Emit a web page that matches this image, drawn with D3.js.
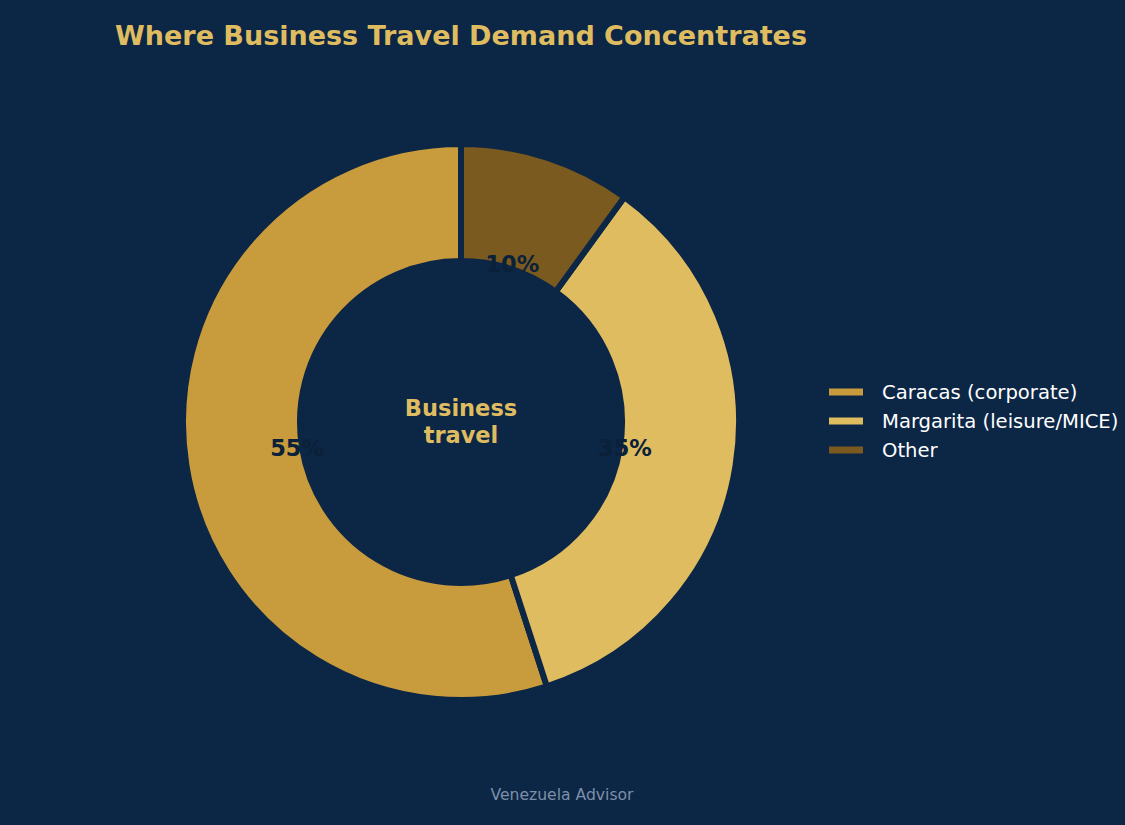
<!DOCTYPE html>
<html>
<head>
<meta charset="utf-8">
<script src="https://cdn.jsdelivr.net/npm/d3@7"></script>
<style>
  body { margin: 0; background: #0c2645; }
  text { font-family: "DejaVu Sans", sans-serif; }
</style>
</head>
<body>
<div class="canvas"></div>
<script>
// chart data
const segments = ["Caracas (corporate)", "Margarita (leisure/MICE)", "Other"]
const shares = [55, 35, 10]
const colors = ["#c89b3c", "#dfbc60", "#7a5a1e"]

const width = 1125
const height = 825
const bg = "#0c2645"
const cx = 461, cy = 422
const outerR = 278
const innerR = 161

const svg = d3.select(".canvas").append("svg")
    .attr("width", width)
    .attr("height", height)

svg.append("rect")
    .attr("width", width)
    .attr("height", height)
    .attr("fill", bg)

// title
svg.append("text")
    .attr("x", cx)
    .attr("y", 45)
    .attr("text-anchor", "middle")
    .style("font-size", "27px")
    .style("font-weight", "bold")
    .style("fill", "#dfbc60")
    .text("Where Business Travel Demand Concentrates")

const data = segments.map((s, i) => ({ name: s, value: shares[i], color: colors[i] }))

// counterclockwise from top, like matplotlib startangle=90
const pie = d3.pie()
    .value(d => d.value)
    .sort(null)
    .startAngle(0)
    .endAngle(-2 * Math.PI)

const arc = d3.arc()
    .innerRadius(innerR)
    .outerRadius(outerR)

const g = svg.append("g").attr("transform", `translate(${cx},${cy})`)

const arcs = pie(data)

g.selectAll("path")
    .data(arcs)
    .enter()
    .append("path")
    .attr("d", arc)
    .attr("fill", d => d.data.color)
    .attr("stroke", bg)
    .attr("stroke-width", 6)

// pct labels at 0.6 of radius
const labelR = 166
g.selectAll("text.pct")
    .data(arcs)
    .enter()
    .append("text")
    .attr("class", "pct")
    .attr("x", d => labelR * Math.sin((d.startAngle + d.endAngle) / 2))
    .attr("y", d => -labelR * Math.cos((d.startAngle + d.endAngle) / 2))
    .attr("dy", "0.36em")
    .attr("text-anchor", "middle")
    .style("font-size", "22.5px")
    .style("font-weight", "bold")
    .style("fill", "#0b2039")
    .text(d => d.data.value + "%")

// center label
const center = g.append("text")
    .attr("text-anchor", "middle")
    .style("font-size", "22.5px")
    .style("font-weight", "bold")
    .style("fill", "#dfbc60")
center.append("tspan").attr("x", 0).attr("y", -6).text("Business")
center.append("tspan").attr("x", 0).attr("y", 21).text("travel")

// legend
const legend = svg.append("g").attr("transform", "translate(829,392)")
const rows = legend.selectAll("g")
    .data(data)
    .enter()
    .append("g")
    .attr("transform", (d, i) => `translate(0,${i * 29})`)

rows.append("rect")
    .attr("x", 0)
    .attr("y", -3.5)
    .attr("width", 34)
    .attr("height", 7)
    .attr("fill", d => d.color)

rows.append("text")
    .attr("x", 53)
    .attr("y", 0)
    .attr("dy", "0.36em")
    .style("font-size", "19.6px")
    .style("fill", "#ffffff")
    .text(d => d.name)

// footer
svg.append("text")
    .attr("x", 562)
    .attr("y", 800)
    .attr("text-anchor", "middle")
    .style("font-size", "15.6px")
    .style("fill", "#7d8fa8")
    .text("Venezuela Advisor")
</script>
</body>
</html>
